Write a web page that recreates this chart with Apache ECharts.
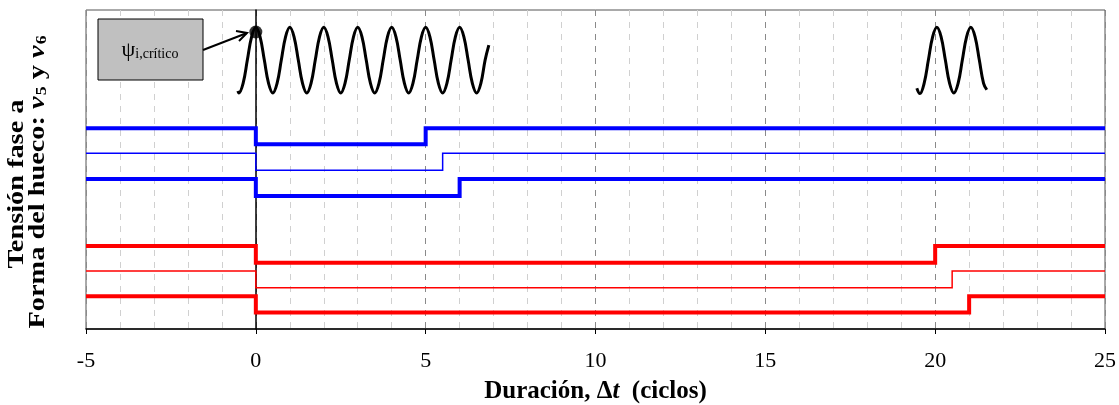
<!DOCTYPE html>
<html><head><meta charset="utf-8">
<script src="https://cdn.jsdelivr.net/npm/echarts@6/dist/echarts.min.js"></script>
<style>html,body{margin:0;padding:0;background:#fff}#c{width:1119px;height:405px}</style>
</head><body><div id="c"></div>
<script>
// ---- data ----
const xTickValues = [-5, 0, 5, 10, 15, 20, 25];
const traceNames = ['v5 (1)', 'v5 (2)', 'v5 (3)', 'v6 (1)', 'v6 (2)', 'v6 (3)'];
const levelHigh = [62.9, 55.1, 47.0, 26.0, 18.2, 10.3];
const levelLow  = [57.9, 49.8, 41.7, 20.8, 12.9, 5.2];
const sagStart  = [0, 0, 0, 0, 0, 0];
const sagEnd    = [5, 5.5, 6, 20, 20.5, 21];
const wave1X = [-0.53, -0.5, -0.375, -0.25, -0.125,
  0, 0.125, 0.25, 0.375, 0.5, 0.625, 0.75, 0.875,
  1, 1.125, 1.25, 1.375, 1.5, 1.625, 1.75, 1.875,
  2, 2.125, 2.25, 2.375, 2.5, 2.625, 2.75, 2.875,
  3, 3.125, 3.25, 3.375, 3.5, 3.625, 3.75, 3.875,
  4, 4.125, 4.25, 4.375, 4.5, 4.625, 4.75, 4.875,
  5, 5.125, 5.25, 5.375, 5.5, 5.625, 5.75, 5.875,
  6, 6.125, 6.25, 6.375, 6.5, 6.625, 6.75, 6.86];
const wave1Y = [74.6, 74.0, 77.0, 84.3, 91.6,
  94.6, 91.6, 84.3, 77.0, 74.0, 77.0, 84.3, 91.6,
  94.6, 91.6, 84.3, 77.0, 74.0, 77.0, 84.3, 91.6,
  94.6, 91.6, 84.3, 77.0, 74.0, 77.0, 84.3, 91.6,
  94.6, 91.6, 84.3, 77.0, 74.0, 77.0, 84.3, 91.6,
  94.6, 91.6, 84.3, 77.0, 74.0, 77.0, 84.3, 91.6,
  94.6, 91.6, 84.3, 77.0, 74.0, 77.0, 84.3, 91.6,
  94.6, 91.6, 84.3, 77.0, 74.0, 77.0, 84.3, 89.0];
const wave2X = [19.46, 19.55, 19.675, 19.8, 19.925, 20.05, 20.175, 20.3, 20.425, 20.55,
  20.675, 20.8, 20.925, 21.05, 21.175, 21.3, 21.425, 21.52];
const wave2Y = [75.5, 73.8, 77.0, 84.3, 91.6, 94.6, 91.6, 84.3, 77.0, 74.0,
  77.0, 84.3, 91.6, 94.6, 91.6, 84.3, 77.0, 75.0];
const criticalPoint = [0, 93.1];

// ---- styles ----
const serif = '"Liberation Serif", "Times New Roman", serif';
const traceColors = ['#0000ff', '#0000ff', '#0000ff', '#ff0000', '#ff0000', '#ff0000'];
const traceWidths = [4, 1.5, 4, 4, 1.5, 4];

function stepData(i) {
  return [[-5, levelHigh[i]], [sagStart[i], levelHigh[i]], [sagStart[i], levelLow[i]],
          [sagEnd[i], levelLow[i]], [sagEnd[i], levelHigh[i]], [25, levelHigh[i]]];
}
const zip = (xs, ys) => xs.map((x, k) => [x, ys[k]]);

const series = traceNames.map((n, i) => ({
  name: n, type: 'line', data: stepData(i), symbol: 'none', animation: false,
  lineStyle: { color: traceColors[i], width: traceWidths[i], join: 'miter' }, z: 3
}));
series.push({ name: 'onda1', type: 'line', data: zip(wave1X, wave1Y), smooth: 0.4, symbol: 'none',
  lineStyle: { color: '#000', width: 3 }, animation: false, z: 4 });
series.push({ name: 'onda2', type: 'line', data: zip(wave2X, wave2Y), smooth: 0.4, symbol: 'none',
  lineStyle: { color: '#000', width: 3 }, animation: false, z: 4 });
series.push({ name: 'critico', type: 'scatter', data: [criticalPoint], symbol: 'circle', symbolSize: 13,
  itemStyle: { color: '#000' }, animation: false, z: 5 });

const chart = echarts.init(document.getElementById('c'));
chart.setOption({
  backgroundColor: '#fff',
  animation: false,
  grid: { left: 86, right: 14, top: 10, bottom: 76, show: true, borderColor: '#555', borderWidth: 1,
          containLabel: false, outerBoundsMode: 'none' },
  xAxis: {
    type: 'value', min: xTickValues[0], max: xTickValues[xTickValues.length - 1], interval: 5,
    axisLine: { lineStyle: { color: '#000', width: 1.5 } },
    axisTick: { show: true, inside: false, length: 5, lineStyle: { color: '#000' } },
    axisLabel: { color: '#000', fontFamily: serif, fontSize: 22, margin: 21 },
    splitLine: { show: true, lineStyle: { color: '#8a8a8a', type: [6, 6] } },
    minorTick: { show: false, splitNumber: 5 },
    minorSplitLine: { show: true, lineStyle: { color: '#d0d0d0', type: [6, 6] } },
    name: '{b|Duración, Δ}{bi|t}{b|  (ciclos)}', nameLocation: 'middle', nameGap: 50,
    nameTextStyle: { rich: {
      b: { fontFamily: serif, fontSize: 25, fontWeight: 'bold', color: '#000' },
      bi: { fontFamily: serif, fontSize: 25, fontWeight: 'bold', fontStyle: 'italic', color: '#000' }
    } }
  },
  yAxis: {
    type: 'value', min: 0, max: 100,
    axisLine: { show: true, lineStyle: { color: '#000', width: 1.5 } },
    axisTick: { show: false }, axisLabel: { show: false }, splitLine: { show: false }
  },
  series: series,
  graphic: [
    { type: 'rect', shape: { x: 98, y: 19, width: 105, height: 61 },
      style: { fill: '#c0c0c0', stroke: '#000', lineWidth: 1 }, z: 10 },
    { type: 'text', x: 150, y: 50, z: 11,
      style: { text: '{p|ψ}{s|i,crítico}', align: 'center', verticalAlign: 'middle',
        rich: { p: { fontFamily: serif, fontSize: 22, fill: '#000' },
                s: { fontFamily: serif, fontSize: 14, fill: '#000', verticalAlign: 'bottom', padding: [8, 0, 0, 0] } } } },
    { type: 'line', shape: { x1: 203, y1: 50, x2: 247, y2: 33 }, style: { stroke: '#000', lineWidth: 2 }, z: 11 },
    { type: 'polyline', shape: { points: [[236, 31], [247, 33], [239, 41]] }, style: { stroke: '#000', lineWidth: 2, fill: null }, z: 11 },
    { type: 'text', x: 17, y: 184, rotation: Math.PI / 2, scaleX: 1.18, z: 11,
      style: { text: 'Tensión fase a', align: 'center', verticalAlign: 'middle',
        fontFamily: serif, fontSize: 24, fontWeight: 'bold', fill: '#000' } },
    { type: 'text', x: 38, y: 182, rotation: Math.PI / 2, scaleX: 1.18, z: 11,
      style: { text: '{b|Forma del hueco: }{i|v}{s|5}{b| y }{i|v}{s|6}', align: 'center', verticalAlign: 'middle',
        rich: {
          b: { fontFamily: serif, fontSize: 24, fontWeight: 'bold', fill: '#000' },
          i: { fontFamily: serif, fontSize: 24, fontWeight: 'bold', fontStyle: 'italic', fill: '#000' },
          s: { fontFamily: serif, fontSize: 15, fontWeight: 'bold', fill: '#000', verticalAlign: 'bottom', padding: [6, 0, 0, 1] }
        } } }
  ]
});
</script></body></html>
